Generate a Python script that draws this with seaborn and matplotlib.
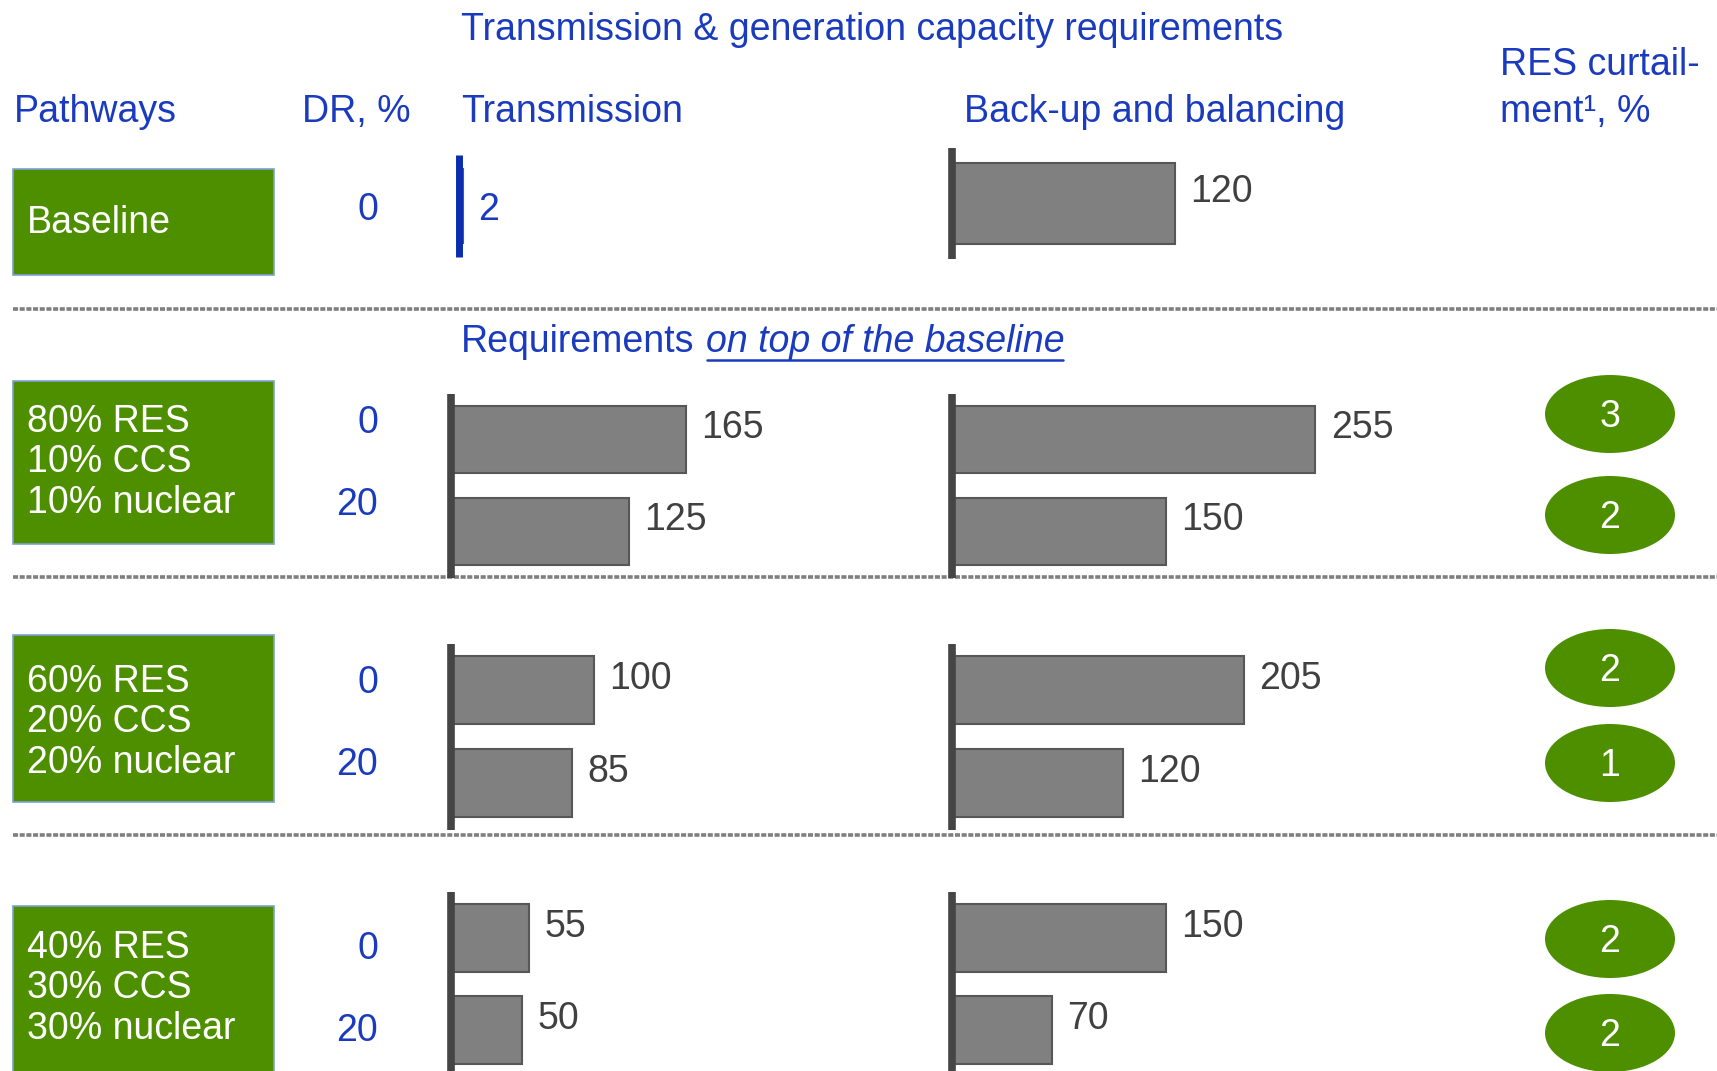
import matplotlib
matplotlib.use("Agg")
import matplotlib.pyplot as plt
from matplotlib.patches import Rectangle, Ellipse
import pandas as pd
import seaborn as sns

# data
pathways = ["Baseline",
            "80% RES\n10% CCS\n10% nuclear",
            "60% RES\n20% CCS\n20% nuclear",
            "40% RES\n30% CCS\n30% nuclear"]
dr_levels = ["0", "20"]
baseline_transmission = [2]
baseline_backup = [120]
transmission = [[165, 125], [100, 85], [55, 50]]
backup = [[255, 150], [205, 120], [150, 70]]
curtailment = [[3, 2], [2, 1], [2, 2]]

W, H = 1717, 1071
BLUE = "#1b3bbf"
GREEN = "#4e8f00"
BAR = "#808080"
BAR_EDGE = "#575757"
AXIS = "#454545"
LABEL = "#404040"
FS = 27

sns.set_theme(style="white")
plt.rcParams["font.family"] = ["Liberation Sans", "DejaVu Sans"]

fig = plt.figure(figsize=(W / 100, H / 100), dpi=100)
bg = fig.add_axes([0, 0, 1, 1])
bg.set_xlim(0, W)
bg.set_ylim(H, 0)
bg.axis("off")


def px_axes(x0, y0, x1, y1):
    ax = fig.add_axes([x0 / W, 1 - y1 / H, (x1 - x0) / W, (y1 - y0) / H])
    ax.patch.set_alpha(0)
    return ax


def bar_panel(x0, y0, y1, values, scale, axis_color=AXIS, axis_lw=5.5,
              label_color=LABEL, label_dy=1, width_px=440):
    ax = px_axes(x0, y0, x0 + width_px, y1)
    df = pd.DataFrame({"dr": dr_levels[:len(values)], "value": values})
    sns.barplot(data=df, x="value", y="dr", orient="h", color=BAR,
                edgecolor=BAR_EDGE, linewidth=1.5, width=0.73,
                saturation=1, ax=ax)
    ax.set_xlim(0, width_px / scale)
    ax.set_ylim(len(values) - 0.5, -0.5)
    ax.axis("off")
    ax.axvline(0, color=axis_color, lw=axis_lw, clip_on=False,
               solid_capstyle="butt")
    for i, v in enumerate(values):
        ax.annotate(str(v), (v, i), xytext=(11, label_dy), textcoords="offset points",
                    ha="left", va="baseline", fontsize=FS, color=label_color)
    return ax


# headers
bg.text(461, 40, "Transmission & generation capacity requirements",
        color=BLUE, fontsize=FS, va="baseline")
bg.text(14, 122, "Pathways", color=BLUE, fontsize=FS, va="baseline")
bg.text(302, 122, "DR, %", color=BLUE, fontsize=FS, va="baseline")
bg.text(461, 122, "Transmission", color=BLUE, fontsize=FS, va="baseline")
bg.text(964, 122, "Back-up and balancing", color=BLUE, fontsize=FS, va="baseline")
bg.text(1500, 75, "RES curtail-", color=BLUE, fontsize=FS, va="baseline")
bg.text(1500, 122, "ment\u00b9, %", color=BLUE, fontsize=FS, va="baseline")

# "Requirements on top of the baseline" with underlined italic part
req = bg.text(461, 352, "Requirements", color=BLUE, fontsize=FS, va="baseline")
fig.canvas.draw()
r = fig.canvas.get_renderer()
x_end = req.get_window_extent(r).x1
ital = bg.text(x_end + 11, 352, "on top of the baseline", color=BLUE,
               fontsize=FS, style="italic", va="baseline")
fig.canvas.draw()
ie = ital.get_window_extent(r)
bg.plot([ie.x0 + 1, ie.x1 - 1], [360, 360], color=BLUE, lw=1.8)

# dashed separators
for y in [309, 577, 835]:
    bg.plot([13, W], [y, y], color="#7f7f7f", lw=2.6, dashes=(1.4, 0.45))

# green pathway boxes
boxes = [(169, 275), (381, 544), (635, 802), (906, 1076)]
first_base = [233, 432, 692, 958]
for k, (name, (top, bot)) in enumerate(zip(pathways, boxes)):
    bg.add_patch(Rectangle((13, top), 261, bot - top, facecolor=GREEN,
                           edgecolor="#7d9fd8", lw=1.2))
    for j, line in enumerate(name.split("\n")):
        bg.text(27, first_base[k] + j * 40.5, line, color="white",
                fontsize=FS, va="baseline")

# DR labels
bg.text(378, 220, dr_levels[0], color=BLUE, fontsize=FS, ha="right", va="baseline")
for k in range(1, 4):
    for j, d in enumerate(dr_levels):
        bg.text(378, first_base[k] + 1 + j * 82, d, color=BLUE, fontsize=FS,
                ha="right", va="baseline")

# baseline bars (own scale)
bar_panel(459, 155, 257, baseline_transmission, 1.86, axis_color="#0a2db0",
          axis_lw=5, label_color=BLUE, label_dy=-10)
bar_panel(952, 148, 259, baseline_backup, 1.86)

# requirements on top of baseline
rows = [(393.5, 577.5), (643.5, 829.5), (892, 1076)]
for g, (top, bot) in enumerate(rows):
    bar_panel(451, top, bot, transmission[g], 1.425)
    bar_panel(952, top, bot, backup[g], 1.425)

# RES curtailment ellipses
ell_centers = [(414, 515), (668, 763), (939, 1033)]
for g, (c0, c1) in enumerate(ell_centers):
    sp = c1 - c0
    ax = px_axes(1540, c0 - sp / 2, 1680, c1 + sp / 2)
    ax.set_xlim(0, 1)
    ax.set_ylim(1.5, -0.5)
    ax.axis("off")
    for i, v in enumerate(curtailment[g]):
        ax.add_patch(Ellipse((0.5, i), 130 / 140, 78 / sp, facecolor=GREEN,
                             lw=0, clip_on=False))
        ax.annotate(str(v), (0.5, i), xytext=(0, -9.5), textcoords="offset points",
                    ha="center", va="baseline", fontsize=FS, color="white")

fig.savefig("out.png", dpi=100)
